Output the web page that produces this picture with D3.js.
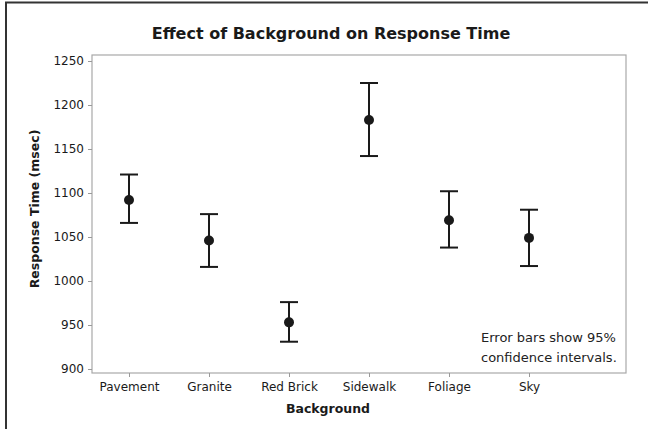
<!DOCTYPE html>
<html><head><meta charset="utf-8">
<script src="https://cdn.jsdelivr.net/npm/d3@7"></script>
<style>html,body{margin:0;padding:0;background:#fff;}svg{display:block;}</style>
</head><body>
<svg id="chart" width="648" height="429"></svg>
<script>
const categories = ["Pavement", "Granite", "Red Brick", "Sidewalk", "Foliage", "Sky"];
const means = [1092, 1046, 953, 1183, 1069, 1049];
const lower = [1066, 1016, 931, 1142, 1038, 1017];
const upper = [1121, 1076, 976, 1225, 1102, 1081];
const yTicks = [900, 950, 1000, 1050, 1100, 1150, 1200, 1250];

const svg = d3.select("#chart");
const font = "'DejaVu Sans', Verdana, sans-serif";
const ink = "#1a1a1a";

// outer border (top and left)
svg.append("line").attr("x1", 5).attr("x2", 648).attr("y1", 2.5).attr("y2", 2.5).attr("stroke", "#333").attr("stroke-width", 2);
svg.append("line").attr("x1", 6).attr("x2", 6).attr("y1", 2).attr("y2", 429).attr("stroke", "#333").attr("stroke-width", 2);

const frame = {left: 92, right: 626, top: 55, bottom: 373};
const y = d3.scaleLinear().domain([900, 1250]).range([369, 61]);
const x = d3.scalePoint().domain(categories).range([129, 529]);

svg.append("rect").attr("x", frame.left).attr("y", frame.top)
  .attr("width", frame.right - frame.left).attr("height", frame.bottom - frame.top)
  .attr("fill", "none").attr("stroke", "#a8a8a8").attr("stroke-width", 1.2);

// y axis
const yAxis = d3.axisLeft(y).tickValues(yTicks).tickFormat(d3.format("d")).tickSize(4).tickPadding(4);
const gy = svg.append("g").attr("transform", `translate(${frame.left},0)`).call(yAxis);
gy.select(".domain").remove();
gy.selectAll(".tick line").attr("stroke", "#999");
gy.selectAll(".tick text").attr("fill", ink).style("font-family", font).style("font-size", "12px");

// x axis
const xAxis = d3.axisBottom(x).tickSize(4).tickPadding(5);
const gx = svg.append("g").attr("transform", `translate(0,${frame.bottom})`).call(xAxis);
gx.select(".domain").remove();
gx.selectAll(".tick line").attr("stroke", "#999");
gx.selectAll(".tick text").attr("fill", ink).style("font-family", font).style("font-size", "12px");

// error bars
const g = svg.append("g");
const cap = 9;
categories.forEach((c, i) => {
  const cx = x(c);
  g.append("line").attr("x1", cx).attr("x2", cx).attr("y1", y(lower[i])).attr("y2", y(upper[i]))
    .attr("stroke", ink).attr("stroke-width", 2);
  [lower[i], upper[i]].forEach(v => {
    g.append("line").attr("x1", cx - cap).attr("x2", cx + cap).attr("y1", y(v)).attr("y2", y(v))
      .attr("stroke", ink).attr("stroke-width", 2);
  });
  g.append("circle").attr("cx", cx).attr("cy", y(means[i])).attr("r", 5).attr("fill", ink);
});

// title
svg.append("text").attr("x", 331).attr("y", 39).attr("text-anchor", "middle")
  .style("font-family", font).style("font-size", "16px").style("font-weight", "bold").attr("fill", ink)
  .text("Effect of Background on Response Time");

// axis titles
svg.append("text").attr("x", 328).attr("y", 413).attr("text-anchor", "middle")
  .style("font-family", font).style("font-size", "12.5px").style("font-weight", "bold").attr("fill", ink)
  .text("Background");
svg.append("text").attr("transform", "translate(39,209) rotate(-90)").attr("text-anchor", "middle")
  .style("font-family", font).style("font-size", "12.5px").style("font-weight", "bold").attr("fill", ink)
  .text("Response Time (msec)");

// annotation
const note = svg.append("text").style("font-family", font).style("font-size", "13px").attr("fill", "#222");
note.append("tspan").attr("x", 481).attr("y", 342).text("Error bars show 95%");
note.append("tspan").attr("x", 481).attr("y", 362).text("confidence intervals.");
</script>
</body></html>
